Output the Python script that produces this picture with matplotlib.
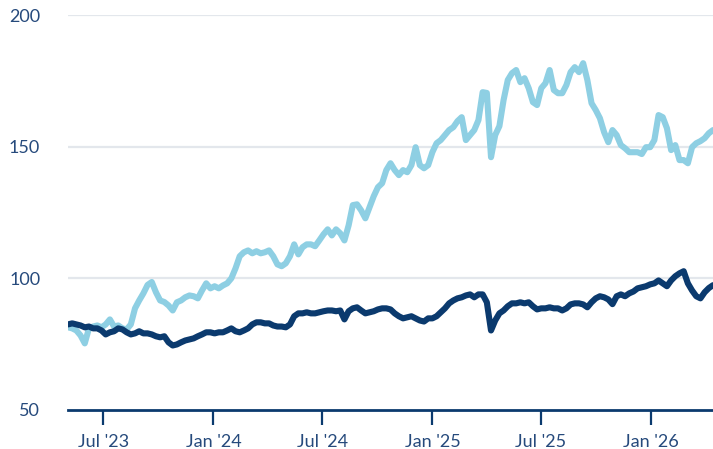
import numpy as np
import pandas as pd
import matplotlib
matplotlib.use("Agg")
import matplotlib.pyplot as plt
import matplotlib.dates as mdates

plt.rcParams["font.family"] = ["Lato", "DejaVu Sans"]

# weekly closes, indexed
dates = pd.date_range("2023-05-03", periods=155, freq="7D")

growth = [
    81.4, 81.0, 80.2, 78.3, 75.3, 81.0, 81.7, 82.1, 81.4, 82.5,
    84.4, 81.7, 82.1, 81.0, 80.6, 82.5, 88.6, 91.6, 94.3, 97.5,
    98.6, 94.7, 91.6, 91.0, 89.7, 87.8, 90.9, 91.6, 92.8, 93.5,
    93.2, 92.4, 95.4, 98.1, 96.2, 97.0, 96.2, 97.3, 98.1, 100.0,
    103.8, 108.4, 109.9, 110.6, 109.5, 110.3, 109.5, 109.9, 110.6, 108.4,
    105.3, 104.6, 105.7, 108.4, 112.9, 109.1, 111.8, 112.9, 112.9, 112.2,
    114.4, 116.7, 118.6, 116.3, 118.6, 117.1, 114.4, 120.1, 127.8, 128.1,
    125.8, 122.8, 127.0, 131.2, 134.6, 136.1, 141.1, 143.7, 141.1, 139.2,
    141.1, 140.3, 143.0, 149.8, 143.0, 141.8, 143.0, 147.9, 151.3, 152.5,
    154.4, 156.3, 157.4, 159.7, 161.2, 152.5, 154.4, 156.3, 160.1, 170.7,
    170.4, 146.0, 154.4, 157.8, 167.7, 175.3, 177.9, 179.1, 174.5, 176.0,
    172.2, 166.9, 165.8, 172.2, 174.1, 179.1, 171.5, 170.3, 170.3, 173.4,
    178.3, 180.2, 178.3, 181.7, 175.3, 166.5, 163.9, 160.8, 155.5, 151.7,
    156.3, 154.4, 150.6, 149.4, 147.9, 147.9, 147.9, 147.2, 149.8, 149.8,
    152.5, 162.0, 161.2, 157.0, 148.7, 150.6, 144.9, 144.9, 143.7, 149.8,
    151.3, 152.1, 153.2, 155.1, 156.3,
]

value = [
    82.5, 82.9, 82.5, 82.1, 81.4, 81.7, 81.0, 81.0, 80.2, 78.7,
    79.5, 79.9, 81.0, 80.6, 79.5, 78.7, 79.1, 79.9, 79.1, 79.1,
    78.7, 78.0, 77.6, 78.0, 75.7, 74.5, 74.9, 75.7, 76.4, 76.8,
    77.2, 78.0, 78.7, 79.5, 79.5, 79.1, 79.5, 79.5, 80.2, 81.0,
    79.9, 79.5, 80.2, 81.0, 82.5, 83.3, 83.3, 82.9, 82.9, 82.1,
    81.7, 81.7, 81.4, 82.5, 85.6, 86.7, 86.7, 87.1, 86.7, 86.7,
    87.1, 87.5, 87.8, 87.8, 87.5, 87.8, 84.4, 87.5, 88.6, 89.0,
    87.8, 86.7, 87.1, 87.5, 88.2, 88.6, 88.6, 88.2, 86.7, 85.6,
    84.8, 85.2, 85.6, 84.8, 84.0, 83.6, 84.8, 84.8, 85.6, 87.1,
    88.6, 90.5, 91.6, 92.4, 92.8, 93.5, 93.9, 92.8, 93.9, 93.9,
    90.9, 80.2, 84.0, 86.7, 87.8, 89.4, 90.5, 90.5, 90.9, 90.5,
    90.9, 89.4, 88.2, 88.6, 88.6, 89.0, 88.6, 88.6, 87.8, 88.6,
    90.1, 90.5, 90.5, 90.1, 89.0, 90.9, 92.4, 93.2, 92.8, 92.0,
    90.2, 93.2, 93.9, 93.2, 94.3, 95.0, 96.2, 96.6, 97.0, 97.7,
    98.1, 99.2, 98.1, 97.0, 99.2, 100.8, 101.9, 102.7, 98.1, 95.4,
    93.2, 92.4, 94.7, 96.3, 97.4,
]

navy = "#0b3a6e"
light = "#8ecfe3"
label_color = "#264a7c"

fig = plt.figure(figsize=(7.13, 4.49), dpi=100)
ax = fig.add_axes([68 / 713, 1 - 410 / 449, 1 - 68 / 713, 395 / 449])

ax.plot(dates, growth, color=light, lw=4.4, solid_capstyle="round", solid_joinstyle="round")
ax.plot(dates, value, color=navy, lw=4.4, solid_capstyle="round", solid_joinstyle="round")

ax.set_ylim(50, 200)
ax.set_xlim(dates[0], pd.Timestamp("2026-04-15"))
ax.set_yticks([50, 100, 150, 200])
for y in [100, 150, 200]:
    ax.axhline(y, color="#e3e7ec", lw=1.6, zorder=0)

ticks = pd.to_datetime(["2023-07-01", "2024-01-01", "2024-07-01",
                        "2025-01-01", "2025-07-01", "2026-01-01"])
ax.set_xticks(ticks)
ax.xaxis.set_major_formatter(mdates.DateFormatter("%b '%y"))

for side in ["top", "right", "left"]:
    ax.spines[side].set_visible(False)
ax.spines["bottom"].set_color(navy)
ax.spines["bottom"].set_linewidth(2)

ax.tick_params(axis="y", length=0, pad=20, labelsize=13, labelcolor=label_color)
ax.tick_params(axis="x", length=11, width=1.6, color=navy, pad=6,
               labelsize=13, labelcolor=label_color)

plt.savefig("out.png", dpi=100)
